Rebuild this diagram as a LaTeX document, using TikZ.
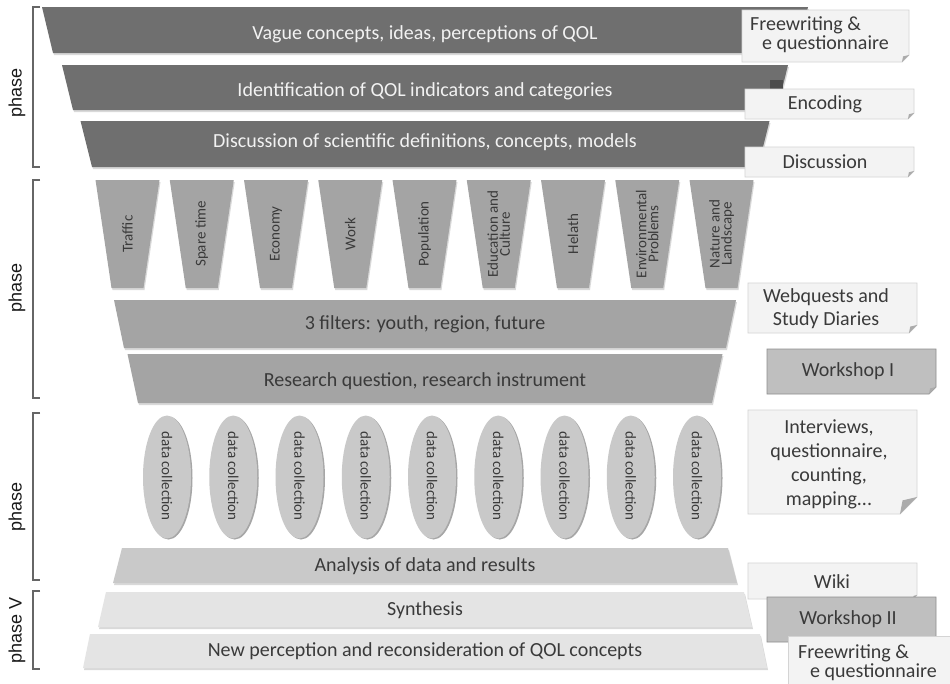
\documentclass[tikz,border=0pt]{standalone}
\usepackage{fontspec}
\setmainfont{Carlito}
\newfontfamily\phasefont{Liberation Sans}
\definecolor{bardark}{HTML}{6F6F6F}
\definecolor{barmid}{HTML}{A4A4A4}
\definecolor{barlight}{HTML}{C9C9C9}
\definecolor{barpale}{HTML}{E4E4E4}
\definecolor{notefill}{HTML}{F3F3F3}
\definecolor{notedraw}{HTML}{D4D4D4}
\definecolor{wsfill}{HTML}{BFBFBF}
\definecolor{wsdraw}{HTML}{8E8E8E}
\definecolor{foldc}{HTML}{ABABAB}
\definecolor{txt}{HTML}{3A3A3A}
\newcommand\funbar[9]{%
  \fill[black!15] (425-#4+1,#2+2) -- (425+#4+1,#2+2) -- (425+#5+1,#3+2) -- (425-#5+1,#3+2) -- cycle;
  \fill[#6] (425-#4,#2) -- (425+#4,#2) -- (425+#5,#3) -- (425-#5,#3) -- cycle;
  \node[#7] (#1) at (425,#9) {#8};}
\newcommand\notebox[6]{%
  \filldraw[#6] (#1,#2) -- (#3,#2) -- (#3,#4-#5) -- (#3-#5,#4) -- (#1,#4) -- cycle;
  \fill[foldc] (#3,#4-#5) -- (#3-#5,#4) -- (#3-0.85*#5,#4-0.8*#5) -- cycle;}
\begin{document}
\begin{tikzpicture}[x=1pt,y=-1pt,
  phaselab/.style={font=\phasefont\fontsize{18}{20}\selectfont, text=black!90, rotate=90, inner sep=0},
  brk/.style={draw=black!60, line width=1.3pt},
  lighttext/.style={font=\fontsize{20}{24}\selectfont, text=white!95!black, inner sep=0},
  darktext/.style={font=\fontsize{20}{24}\selectfont, text=txt, inner sep=0},
  cattext/.style={font=\fontsize{15}{12}\selectfont, text=txt, rotate=90, align=center, inner sep=0},
  dctext/.style={font=\fontsize{15}{18}\selectfont, text=txt, rotate=-90, inner sep=0},
  boxtext/.style={font=\fontsize{20}{23}\selectfont, text=txt, inner sep=0},
  note/.style={fill=notefill, draw=notedraw, line width=0.8pt},
  wsnote/.style={fill=wsfill, draw=wsdraw, line width=0.8pt}]
\useasboundingbox (0,0) rectangle (950,683);
\fill[white] (0,0) rectangle (950,683);
\clip (0,0) rectangle (950,683);

% phase labels and brackets
\node[phaselab] (p1) at (17,93) {phase};
\node[phaselab] (p2) at (17,288) {phase};
\node[phaselab] (p3) at (17,507) {phase};
\node[phaselab] (p4) at (17,630) {phase V};
\draw[brk] (40,7) -- (33,7) -- (33,167) -- (40,167);
\draw[brk] (40,180) -- (33,180) -- (33,398) -- (40,398);
\draw[brk] (40,413) -- (33,413) -- (33,580) -- (40,580);
\draw[brk] (40,591) -- (33,591) -- (33,669) -- (40,669);

% phase I bars
\funbar{b1}{7}{53}{383}{372}{bardark}{lighttext}{Vague concepts, ideas, perceptions of QOL}{34}
\funbar{b2}{65}{110}{363}{352}{bardark}{lighttext}{Identification of QOL indicators and categories}{91}
\fill[black!70] (770,80) rectangle (783,90);
\funbar{b3}{121}{167}{344.5}{333}{bardark}{lighttext}{Discussion of scientific definitions, concepts, models}{142}

% categories
\foreach \t [count=\i from 0] in {Traffic,Spare time,Economy,Work,Population,{Education and\\Culture},Helath,{Environmental\\Problems},{Nature and\\Landscape}}{
  \pgfmathsetmacro\cx{127.5+74.25*\i}
  \fill[black!15] (\cx-31,182) -- (\cx+33,182) -- (\cx+17,290) -- (\cx-15,290) -- cycle;
  \fill[barmid] (\cx-32,180) -- (\cx+32,180) -- (\cx+16,288) -- (\cx-16,288) -- cycle;
  \node[cattext] (c\i) at (\cx,234) {\t};
}

\funbar{b4}{300}{348}{311}{301}{barmid}{darktext}{3 filters: youth, region, future}{324}
\funbar{b5}{354}{403}{297.5}{287}{barmid}{darktext}{Research question, research instrument}{381}

% data collection
\foreach \i in {0,...,8}{
  \pgfmathsetmacro\cx{167+66.25*\i}
  \fill[black!35] (\cx+1.5,478) ellipse [x radius=24pt, y radius=61.5pt];
  \fill[barlight] (\cx,477) ellipse [x radius=24pt, y radius=61.5pt];
  \node[dctext] (d\i) at (\cx,476) {data collection};
}

\funbar{b6}{548}{583}{303}{312}{barlight}{darktext}{Analysis of data and results}{566}
\funbar{b7}{592}{627}{319}{327}{barpale}{darktext}{Synthesis}{610}
\funbar{b8}{634}{668}{335}{342}{barpale}{darktext}{New perception and reconsideration of QOL concepts}{651}

% right-hand notes
\notebox{742}{10}{909}{62}{7}{note}
\node[boxtext, align=left, anchor=west, font=\fontsize{20}{19}\selectfont] (r1) at (750,35) {Freewriting \&\\\hspace*{12pt}e questionnaire};
\notebox{745}{89}{914}{119}{6}{note}
\node[boxtext] (r2) at (825,104) {Encoding};
\notebox{745}{147}{914}{177}{6}{note}
\node[boxtext] (r3) at (825,162) {Discussion};
\notebox{748}{283}{917}{333}{8}{note}
\node[boxtext, align=center, font=\fontsize{20}{23}\selectfont] (r4) at (826,309) {Webquests and\\Study Diaries};
\notebox{767}{349}{936}{394}{7}{wsnote}
\node[boxtext] (r5) at (848,371) {Workshop I};
\notebox{748}{410}{917}{514}{17}{note}
\node[boxtext, align=center, font=\fontsize{20}{24}\selectfont] (r6) at (829,464) {Interviews,\\questionnaire,\\counting,\\mapping...};
\notebox{748}{563}{917}{599}{4}{note}
\node[boxtext] (r7) at (832,582) {Wiki};
\notebox{767}{597}{936}{642}{6}{wsnote}
\node[boxtext] (r8) at (848,619) {Workshop II};
\filldraw[note] (788,636) rectangle (960,700);
\node[boxtext, align=left, anchor=west, font=\fontsize{20}{19}\selectfont] (r9) at (798,663) {Freewriting \&\\\hspace*{12pt}e questionnaire};
\end{tikzpicture}
\end{document}
